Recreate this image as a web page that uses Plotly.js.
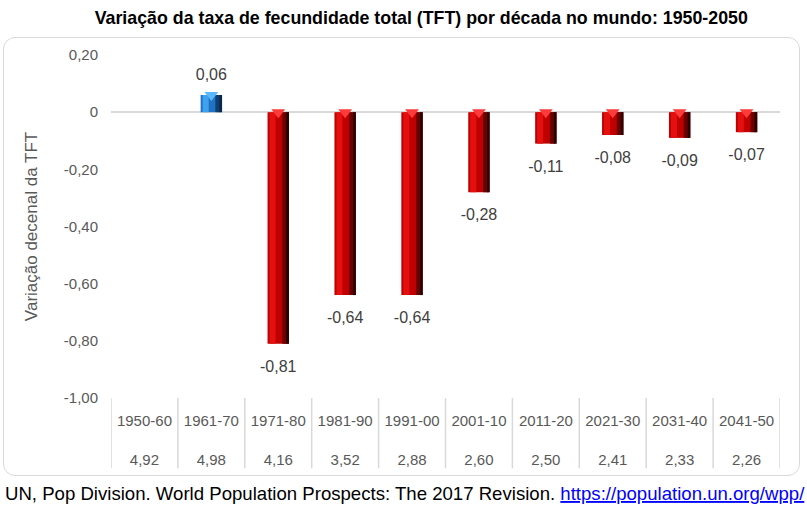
<!DOCTYPE html>
<html><head><meta charset="utf-8">
<script src="https://cdn.plot.ly/plotly-3.0.1.min.js"></script>
<style>
html,body{margin:0;padding:0;background:#fff;}
#wrap{position:relative;width:807px;height:508px;}
#frame{position:absolute;left:3px;top:37px;width:795px;height:437px;border:1.5px solid #D9D9D9;border-radius:12px;}
#chart{position:absolute;left:0;top:0;width:807px;height:508px;}
</style></head>
<body><div id="wrap"><div id="frame"></div><div id="chart"></div></div>
<script>
const decades = ["1950-60","1961-70","1971-80","1981-90","1991-00","2001-10","2011-20","2021-30","2031-40","2041-50"];
const tft = ["4,92","4,98","4,16","3,52","2,88","2,60","2,50","2,41","2,33","2,26"];
const variation = [null, 0.06, -0.81, -0.64, -0.64, -0.28, -0.11, -0.08, -0.09, -0.07];
const yTickVals = [0.2, 0, -0.2, -0.4, -0.6, -0.8, -1.0];
const yTickText = ["0,20","0","-0,20","-0,40","-0,60","-0,80","-1,00"];

const FONT = "Liberation Sans, Arial, sans-serif";
const fmt = v => v === null ? "" : v.toFixed(2).replace(".", ",");
const isPos = variation.map(v => v !== null && v > 0);

const mainCol = variation.map((v,i) => isPos[i] ? "#1F73C2" : "#C00000");
const hiCol = variation.map((v,i) => isPos[i] ? "#3FA2EE" : "#E41010");
const darkCol = variation.map((v,i) => isPos[i] ? "#0E3F70" : "#6A0000");
const edgeCol = variation.map((v,i) => isPos[i] ? "#082848" : "#280000");

function strip(color, width, offset){
  return {type:"bar", x:decades, y:variation, width:width, offset:offset,
    marker:{color:color, line:{width:0}}, hoverinfo:"skip", showlegend:false};
}
const traces = [
  strip(mainCol, 0.32, -0.16),
  strip(hiCol, 0.09, -0.13),
  strip(darkCol, 0.08, 0.06),
  strip(edgeCol, 0.04, 0.12),
  {type:"scatter", mode:"markers", x:decades, y:variation.map(v => v===null?null:Math.max(v,0)),
   marker:{symbol:"triangle-down", size:12, color:variation.map((v,i)=>isPos[i]?"#59B8FF":"#FF3A3A"), line:{width:0}},
   hoverinfo:"skip", showlegend:false, cliponaxis:false},
  {type:"scatter", mode:"markers+text", x:decades, y:variation,
   text:variation.map(fmt),
   textposition:variation.map(v => v!==null && v>0 ? "top center" : "bottom center"),
   textfont:{family:FONT, size:16, color:"#404040"},
   marker:{size:variation.map(v => v!==null && v>0 ? 16 : 24), color:"rgba(0,0,0,0)", line:{width:0, color:"rgba(0,0,0,0)"}},
   hoverinfo:"skip", showlegend:false, cliponaxis:false}
];

const nCat = decades.length;
const shapes = [];
for (let i = 0; i <= nCat; i++) {
  shapes.push({type:"line", xref:"x", yref:"paper", x0:i-0.5, x1:i-0.5, y0:0, y1:-0.205,
    line:{color:"#D9D9D9", width:1.5}});
}

const layout = {
  width:807, height:508,
  margin:{l:111, r:27, t:55, b:110},
  paper_bgcolor:"rgba(0,0,0,0)", plot_bgcolor:"rgba(0,0,0,0)",
  barmode:"overlay", showlegend:false,
  font:{family:FONT, color:"#595959"},
  title:{text:"<b>Variação da taxa de fecundidade total (TFT) por década no mundo: 1950-2050</b>",
    x:0.522, xref:"container", xanchor:"center", y:0.965, yref:"container", yanchor:"middle",
    font:{family:FONT, size:17.8, color:"#000000"}},
  xaxis:{type:"category", showgrid:false, zeroline:false, showline:false, ticks:"",
    range:[-0.5, nCat-0.5],
    tickvals:decades, ticktext:decades.map((d,i) => d + "<br> <br>" + tft[i]),
    ticklabelstandoff:12,
    tickfont:{size:15, color:"#595959"}},
  yaxis:{range:[-1,0.2], tickvals:yTickVals, ticktext:yTickText, showgrid:false,
    zeroline:true, zerolinecolor:"#D9D9D9", zerolinewidth:1.5, showline:false, ticks:"",
    ticklabelstandoff:12,
    tickfont:{size:15, color:"#595959"},
    title:{text:"Variação decenal da TFT", standoff:21, font:{size:17, color:"#595959"}}},
  shapes:shapes,
  annotations:[{xref:"paper", yref:"paper", x:-0.1614, y:-0.277, xanchor:"left", yanchor:"middle", showarrow:false,
    text:'UN, Pop Division. World Population Prospects: The 2017 Revision. <a href="https://population.un.org/wpp/" style="color:#0000FF;text-decoration:underline">https://population.un.org/wpp/</a>',
    font:{family:FONT, size:18.6, color:"#000000"}}]
};
Plotly.newPlot("chart", traces, layout, {displayModeBar:false, staticPlot:true});
</script></body></html>
